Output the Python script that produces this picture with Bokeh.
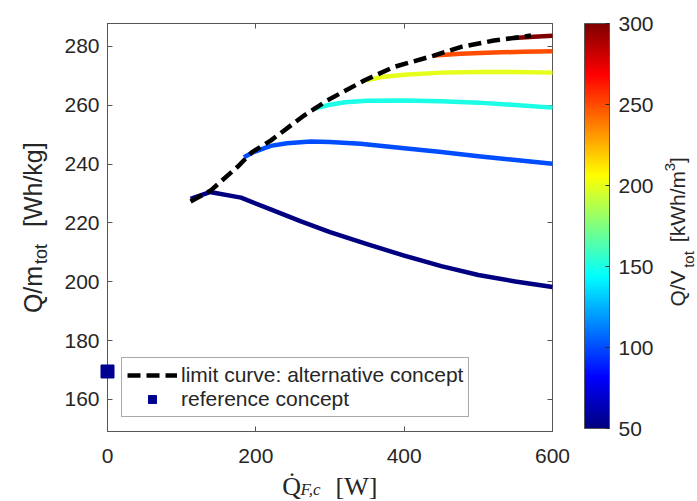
import math
from bokeh.plotting import figure
from bokeh.models import (Range1d, LinearAxis, FixedTicker, LinearColorMapper, ColorBar,
                          Legend, LegendItem, Label, ColumnDataSource, GridBox, Column)
from bokeh.transform import linear_cmap
from bokeh.embed import file_html
from bokeh.resources import INLINE

# ---------------- data ----------------
qv_levels = [50, 100, 150, 200, 250, 300]          # Q/V_tot [kWh/m^3]

x_q50 = [112, 138, 180, 220, 260, 300, 350, 400, 450, 500, 550, 600]
y_q50 = [228.2, 230.5, 228.6, 224.6, 220.6, 216.9, 212.8, 208.9, 205.3, 202.3, 200.1, 198.2]

x_q100 = [184, 197, 220, 242, 274, 300, 341, 400, 450, 500, 550, 600]
y_q100 = [242.3, 244.1, 246.2, 247.1, 247.7, 247.5, 246.9, 245.4, 244.1, 242.7, 241.4, 240.1]

x_q150 = [278, 300, 320, 350, 400, 450, 500, 550, 600]
y_q150 = [258.8, 260.2, 261.0, 261.5, 261.6, 261.4, 260.9, 260.1, 259.2]

x_q200 = [346, 370, 400, 450, 500, 550, 600]
y_q200 = [268.4, 269.6, 270.4, 271.1, 271.3, 271.3, 271.1]

x_q250 = [440, 476, 520, 560, 600]
y_q250 = [276.9, 277.5, 277.9, 278.2, 278.4]

x_q300 = [548, 575, 600]
y_q300 = [282.9, 283.3, 283.6]

x_limit = [112, 139, 175, 195, 220, 265, 296, 346, 386, 440, 476, 521, 571]
y_limit = [227.3, 231.0, 239.0, 244.1, 248.0, 256.5, 261.6, 268.4, 273.0, 276.9, 279.8, 282.0, 283.7]

x_reference = [0]
y_reference = [169.5]

x_ticks = [0, 200, 400, 600]
y_ticks = [160, 180, 200, 220, 240, 260, 280]
cbar_ticks = [50, 100, 150, 200, 250, 300]

X_RANGE = (0, 600)
Y_RANGE = (149.1, 287.8)


def jet(n=256):
    cols = []
    for i in range(n):
        t = i / (n - 1)
        r = min(max(1.5 - abs(4 * t - 3), 0), 1)
        g = min(max(1.5 - abs(4 * t - 2), 0), 1)
        b = min(max(1.5 - abs(4 * t - 1), 0), 1)
        cols.append("#%02x%02x%02x" % (round(r * 255), round(g * 255), round(b * 255)))
    return cols


palette = jet()
mapper = LinearColorMapper(palette=palette, low=50, high=300)

AX = "#555555"
TXT = "#262626"
FONT = "Liberation Sans"
W, H = 697, 501
FL, FR, FT, FB = 107, 552, 23, 431          # frame edges in canvas pixels

# ---------------- axes figure (bottom layer) ----------------
p = figure(width=W, height=H, x_range=Range1d(*X_RANGE), y_range=Range1d(*Y_RANGE),
           output_backend="svg", toolbar_location=None,
           min_border_left=FL, min_border_right=W - FR, min_border_top=FT, min_border_bottom=H - FB)
p.grid.visible = False
p.outline_line_color = AX
p.background_fill_color = "white"
p.border_fill_color = "white"

for ax in (p.xaxis[0], p.yaxis[0]):
    ax.major_tick_in = 5
    ax.major_tick_out = 0
    ax.minor_tick_line_color = None
    ax.axis_line_color = AX
    ax.major_tick_line_color = AX
    ax.major_label_text_font = FONT
    ax.major_label_text_font_size = "21px"
    ax.major_label_text_color = TXT
p.xaxis[0].ticker = FixedTicker(ticks=x_ticks)
p.yaxis[0].ticker = FixedTicker(ticks=y_ticks)
p.xaxis[0].major_label_standoff = 17
p.yaxis[0].major_label_standoff = 8

top = LinearAxis(ticker=FixedTicker(ticks=x_ticks), major_label_text_color=None,
                 major_tick_in=5, major_tick_out=0, minor_tick_line_color=None,
                 axis_line_color=AX, major_tick_line_color=AX, major_label_standoff=0)
right = LinearAxis(ticker=FixedTicker(ticks=y_ticks), major_label_text_color=None,
                   major_tick_in=5, major_tick_out=0, minor_tick_line_color=None,
                   axis_line_color=AX, major_tick_line_color=AX, major_label_standoff=0)
p.add_layout(top, "above")
p.add_layout(right, "right")

# ---------------- overlay figure (same data mapping, whole canvas) ----------------
sx = (X_RANGE[1] - X_RANGE[0]) / (FR - FL)
sy = (Y_RANGE[1] - Y_RANGE[0]) / (FB - FT)


def dx(px):
    return X_RANGE[0] + (px - FL) * sx


def dy(py):
    return Y_RANGE[0] + (FB - py) * sy


ov = figure(width=W, height=H, x_range=Range1d(dx(0), dx(W)), y_range=Range1d(dy(H), dy(0)),
            output_backend="svg", toolbar_location=None, x_axis_type=None, y_axis_type=None,
            min_border=0)
ov.grid.visible = False
ov.outline_line_color = None
ov.background_fill_color = None
ov.border_fill_color = None

src = ColumnDataSource(dict(
    xs=[x_q50, x_q100, x_q150, x_q200, x_q250, x_q300],
    ys=[y_q50, y_q100, y_q150, y_q200, y_q250, y_q300],
    v=qv_levels))
ov.multi_line("xs", "ys", source=src, line_width=4.5, line_join="round",
              line_color=linear_cmap("v", palette, 50, 300))

r_lim = ov.line(x_limit, y_limit, line_color="black", line_width=4.5, line_dash="13 6")
r_ref = ov.scatter(x_reference, y_reference, marker="square", size=13,
                   fill_color="#000090", line_color="#000090")

legend = Legend(items=[LegendItem(label="limit curve: alternative concept", renderers=[r_lim]),
                       LegendItem(label="reference concept", renderers=[r_ref])],
                location=(121, H - 417), label_text_font=FONT, label_text_font_size="21px",
                label_text_color=TXT, glyph_width=50, glyph_height=20, label_height=20,
                spacing=0, padding=5, margin=0, label_standoff=4,
                border_line_color=AX, border_line_width=1, background_fill_alpha=1)
ov.add_layout(legend)

cb = ColorBar(color_mapper=mapper, ticker=FixedTicker(ticks=cbar_ticks), width=25, height=405,
              location=(584, H - 428), padding=0, margin=0, orientation="vertical",
              major_label_text_font=FONT, major_label_text_font_size="21px",
              major_label_text_color=TXT, label_standoff=9, major_tick_in=4, major_tick_out=0,
              major_tick_line_color=TXT, bar_line_color=AX, border_line_color=None,
              background_fill_color=None)
ov.add_layout(cb)


def lab(px, py, text, size, align="center", angle=0.0, font=FONT, style="normal"):
    ov.add_layout(Label(x=dx(px), y=dy(py), text=text, angle=angle, text_align=align,
                        text_baseline="alphabetic", text_font=font,
                        text_font_size=size, text_color=TXT, text_font_style=style))


R = math.pi / 2
# y-axis label  Q/m_tot [Wh/kg]
lab(32, 289.0, "Q/m", "25px", angle=R)
lab(40, 253.5, "tot", "18px", angle=R)
lab(32, 184.2, "[Wh/kg]", "25px", angle=R)

# colorbar label  Q/V_tot [kWh/m^3]
lab(677, 288.0, "Q/V", "21px", angle=R)
lab(688, 259.0, "tot", "15px", angle=R)
lab(677, 241.7, "[kWh/m", "21px", align="left", angle=R)
lab(669, 170.7, "3", "15px", align="left", angle=R)
lab(677, 162.4, "]", "21px", align="left", angle=R)

# x-axis label  Q̇_{F,c} [W]
lab(281.7, 486, "Q\u0307", "26px", align="left", font="Liberation Serif")
lab(300.0, 489, "F,c", "17px", align="left", font="Liberation Serif", style="italic")
lab(335.0, 486, "[W]", "26px", align="left", font="Liberation Serif")

grid = GridBox(children=[(p, 0, 0), (Column(children=[ov]), 0, 0)])
open("out.html", "w").write(file_html(grid, INLINE))
